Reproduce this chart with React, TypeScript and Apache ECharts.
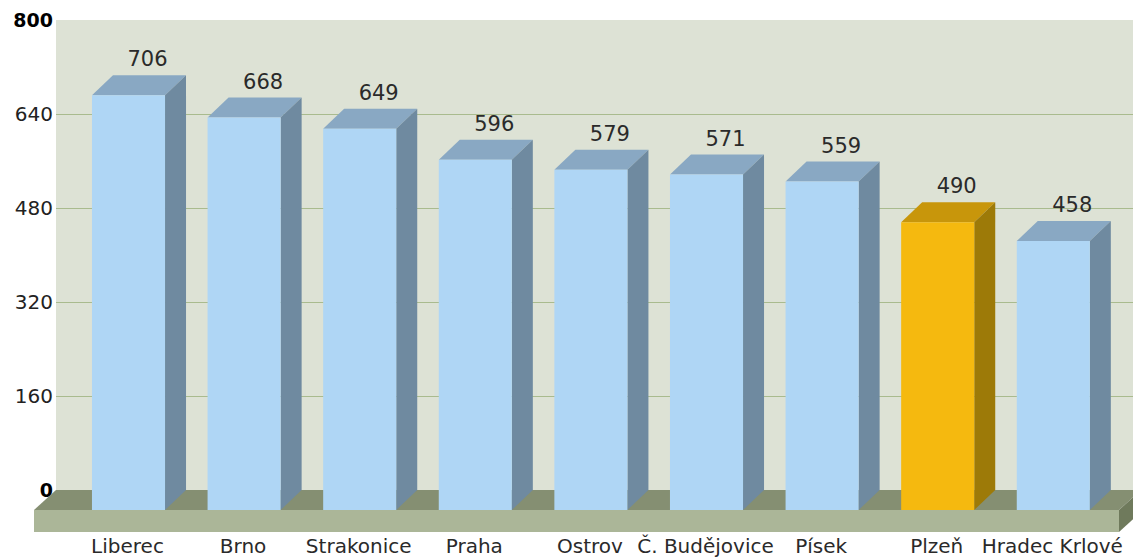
import React, { useEffect, useRef } from "react";
import * as echarts from "echarts";

const categories = ["Liberec", "Brno", "Strakonice", "Praha", "Ostrov", "Č. Budějovice", "Písek", "Plzeň", "Hradec Krlové"];
const values = [706, 668, 649, 596, 579, 571, 559, 490, 458];
const highlighted = ["Plzeň"];
const yMin = 0;
const yMax = 800;
const yStep = 160;

const DX = 21;
const DY = 20;
const FONT = "DejaVu Sans, Verdana, sans-serif";

const BLUE = { front: "#afd6f5", top: "#89a8c3", side: "#6f8aa0" };
const GOLD = { front: "#f5b90f", top: "#c8960b", side: "#9d7a08" };

export default function App() {
  const ref = useRef<HTMLDivElement>(null);
  useEffect(() => {
    if (!ref.current) return;
    const chart = echarts.init(ref.current, null, { renderer: "svg" });
    const gridTop = 20;
    const gridH = 470;
    const wallLeft = 56;
    const floorBack = gridTop + gridH;
    const floorFrontL = wallLeft - 22;
    const floorFrontR = 1119;
    const option: any = {
      animation: false,
      backgroundColor: "#ffffff",
      grid: [
        { left: wallLeft, top: gridTop, width: 1100, height: gridH, show: true, backgroundColor: "#dde2d5", borderWidth: 0 },
        { left: 91.7, top: gridTop, width: 1040.4, height: gridH },
      ],
      xAxis: [
        { type: "category", gridIndex: 0, show: false, data: categories },
        {
          type: "category",
          gridIndex: 1,
          data: categories,
          axisLine: { show: false },
          axisTick: { show: false },
          axisLabel: {
            interval: 0,
            margin: 46,
            fontSize: 20,
            fontFamily: FONT,
            color: "#2a2a2a",
            padding: [0, 44, 0, 0],
          },
        },
      ],
      yAxis: [
        {
          type: "value",
          gridIndex: 0,
          min: yMin,
          max: yMax,
          interval: yStep,
          axisLine: { show: false },
          axisTick: { show: false },
          splitLine: {
            lineStyle: { color: ["rgba(0,0,0,0)", "#a9bb8e", "#a9bb8e", "#a9bb8e", "#a9bb8e", "rgba(0,0,0,0)"], width: 1 },
          },
          axisLabel: {
            margin: 3,
            fontSize: 20,
            fontFamily: FONT,
            color: "#222",
            formatter: (v: number) => (v === yMin || v === yMax ? `{b|${v}}` : `${v}`),
            rich: { b: { fontWeight: "bold", fontSize: 19, fontFamily: FONT, color: "#000" } },
          },
        },
        { type: "value", gridIndex: 1, min: yMin, max: yMax, interval: yStep, show: false },
      ],
      graphic: [
        {
          type: "polygon",
          z: 1,
          shape: { points: [[wallLeft, floorBack], [floorFrontR + 22, floorBack], [floorFrontR, floorBack + DY], [floorFrontL, floorBack + DY]] },
          style: { fill: "#858f72" },
        },
        {
          type: "rect",
          z: 1,
          shape: { x: floorFrontL, y: floorBack + DY, width: floorFrontR - floorFrontL, height: 22 },
          style: { fill: "#abb698" },
        },
        {
          type: "polygon",
          z: 1,
          shape: { points: [[floorFrontR, floorBack + DY], [floorFrontR + 22, floorBack], [floorFrontR + 22, floorBack + 22], [floorFrontR, floorBack + DY + 22]] },
          style: { fill: "#6f7a5c" },
        },
      ],
      series: [
        {
          type: "custom",
          xAxisIndex: 1,
          yAxisIndex: 1,
          z: 5,
          encode: { x: 0, y: 1 },
          data: values.map((v, i) => [i, v]),
          renderItem: (params: any, api: any) => {
            const idx = api.value(0);
            const v = api.value(1);
            const top = api.coord([idx, v]);
            const base = api.coord([idx, 0]);
            const band = api.size([1, 0])[0];
            const w = band * 0.632;
            const bl = top[0] - w / 2;
            const br = top[0] + w / 2;
            const fl = bl - DX;
            const fr = br - DX;
            const fTop = top[1] + DY;
            const fBot = base[1] + DY;
            const c = highlighted.includes(categories[idx]) ? GOLD : BLUE;
            return {
              type: "group",
              children: [
                { type: "polygon", shape: { points: [[fl, fTop], [fr, fTop], [br, top[1]], [bl, top[1]]] }, style: { fill: c.top } },
                { type: "polygon", shape: { points: [[fr, fTop], [br, top[1]], [br, base[1]], [fr, fBot]] }, style: { fill: c.side } },
                { type: "rect", shape: { x: fl, y: fTop, width: w, height: fBot - fTop }, style: { fill: c.front } },
                {
                  type: "text",
                  style: {
                    text: String(v),
                    x: top[0] - 2,
                    y: top[1] - 16,
                    align: "center",
                    verticalAlign: "middle",
                    fontSize: 21,
                    fontFamily: FONT,
                    fill: "#2a2a2a",
                  },
                },
              ],
            };
          },
        },
      ],
    };
    chart.setOption(option);
    return () => chart.dispose();
  }, []);
  return <div ref={ref} style={{ position: "absolute", left: 0, top: 0, width: 1133, height: 557 }} />;
}
